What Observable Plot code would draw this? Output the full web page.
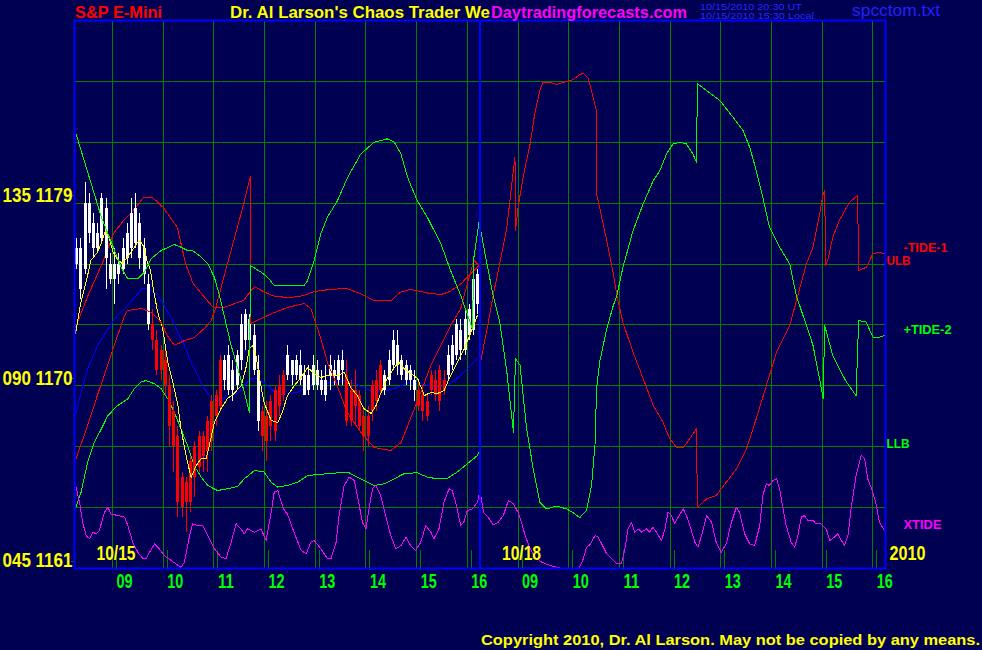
<!DOCTYPE html>
<html><head><meta charset="utf-8">
<script src="https://cdn.jsdelivr.net/npm/d3@7"></script>
<script src="https://cdn.jsdelivr.net/npm/@observablehq/plot@0.6"></script>
<style>
html,body{margin:0;padding:0;background:#000052;}
#chart{width:982px;height:650px;overflow:hidden;}
svg .crisp line, svg .crisp path{shape-rendering:crispEdges;}
</style></head><body><div id="chart"></div>
<script>
// ---- Data (x = session hours since 10/15 08:15; day 2 (10/18) starts at 8) ----
const barMinutes = 5;
const barOpen  = [1176.0,1174.75,1175.75,1177.5,1176.75,1176.75,1177.25,1176.25,1175.25,1175.25,1175.5,1175.75,1176.25,1176.75,1177.0,1176.25,1175.5,1173.0,1173.0,1172.25,1171.75,1171.25,1170.0,1168.75,1167.5,1165.5,1165.25,1166.25,1167.0,1167.5,1167.5,1168.25,1169.25,1169.5,1171.25,1170.25,1169.75,1169.75,1170.0,1171.25,1172.25,1172.25,1170.75,1168.25,1168.75,1168.5,1169.25,1169.75,1170.0,1170.5,1170.5,1170.5,1170.5,1170.25,1169.5,1169.75,1170.0,1170.0,1169.75,1169.5,1170.5,1170.5,1170.25,1170.75,1170.5,1169.75,1169.75,1169.5,1168.5,1168.5,1170.0,1170.25,1171.0,1169.75,1170.25,1171.0,1171.0,1170.5,1170.25,1170.25,1169.75,1169.75,1169.5,1169.25,1170.5,1170.25,1170.75,1170.25,1170.5,1171.0,1171.5,1171.75,1171.75,1172.5,1172.75,1174.0];
const barHigh  = [1177.25,1177.25,1180.0,1179.5,1178.5,1178.0,1179.5,1179.25,1176.5,1176.75,1176.5,1177.25,1178.0,1179.25,1179.5,1178.5,1177.25,1175.5,1173.75,1172.75,1172.0,1171.75,1170.5,1169.25,1168.0,1165.75,1165.5,1166.5,1167.25,1167.75,1167.75,1168.5,1169.5,1169.75,1171.5,1171.5,1172.0,1171.25,1171.75,1173.5,1173.75,1173.5,1173.0,1171.5,1169.0,1169.25,1169.5,1170.0,1170.5,1170.75,1172.0,1171.25,1171.5,1171.75,1171.0,1171.0,1171.5,1171.25,1170.75,1171.0,1171.5,1171.25,1171.5,1171.75,1171.25,1170.25,1170.75,1169.75,1169.0,1169.0,1170.25,1170.75,1171.25,1170.75,1171.75,1172.75,1172.75,1171.5,1171.25,1171.0,1170.75,1170.25,1170.0,1169.5,1170.75,1170.75,1171.0,1170.75,1172.0,1172.5,1173.25,1173.25,1173.75,1174.0,1175.75,1175.75];
const barLow   = [1175.75,1174.25,1175.5,1177.0,1176.25,1176.5,1177.0,1174.75,1175.0,1174.0,1175.0,1175.5,1176.0,1176.25,1176.75,1175.75,1175.0,1172.75,1171.75,1170.5,1170.25,1169.5,1167.0,1165.75,1163.5,1163.5,1162.75,1163.75,1164.5,1165.75,1165.75,1165.75,1166.75,1168.0,1168.75,1169.75,1169.5,1169.25,1169.75,1170.75,1171.75,1172.0,1170.5,1167.75,1166.75,1166.25,1167.25,1167.25,1168.5,1169.25,1170.25,1170.0,1170.25,1170.0,1169.5,1169.5,1169.75,1169.75,1169.5,1169.25,1169.75,1170.0,1170.0,1170.0,1168.0,1168.0,1168.0,1167.75,1166.75,1167.0,1168.25,1168.75,1169.5,1169.5,1170.0,1170.75,1170.5,1170.25,1170.0,1169.75,1169.25,1168.75,1168.25,1168.25,1169.5,1169.25,1168.75,1169.5,1170.25,1170.75,1171.25,1171.25,1171.5,1172.25,1172.5,1173.5];
const barClose = [1176.75,1176.75,1179.0,1179.0,1178.0,1177.5,1179.25,1178.75,1176.0,1176.0,1176.0,1176.75,1177.5,1178.5,1178.75,1178.0,1176.75,1175.0,1172.25,1170.75,1170.75,1170.0,1168.0,1167.0,1164.25,1164.0,1164.25,1164.25,1165.5,1166.0,1166.5,1166.75,1167.25,1168.5,1169.0,1171.25,1171.5,1170.75,1171.5,1173.0,1173.5,1173.25,1172.5,1170.75,1167.5,1167.25,1168.0,1167.75,1169.0,1169.5,1171.5,1171.25,1171.25,1171.0,1170.5,1170.5,1171.0,1170.75,1170.25,1170.25,1171.0,1170.75,1171.25,1171.25,1168.25,1168.25,1169.0,1168.0,1167.5,1167.5,1168.75,1169.25,1169.75,1170.5,1171.25,1172.25,1172.0,1171.25,1171.0,1170.75,1170.25,1169.0,1168.75,1168.5,1169.75,1169.5,1169.25,1169.75,1171.5,1172.0,1173.0,1172.75,1173.25,1173.75,1175.25,1175.5];

const movingAvg = [[0.02,1172.58],[0.12,1174.06],[0.25,1175.34],[0.32,1176.17],[0.45,1176.57],[0.55,1177.16],[0.61,1177.65],[0.68,1177.31],[0.77,1176.52],[0.87,1176.17],[0.94,1176.03],[1.04,1176.32],[1.14,1176.67],[1.24,1177.06],[1.30,1177.16],[1.37,1176.82],[1.43,1176.17],[1.50,1175.68],[1.56,1174.70],[1.64,1173.63],[1.74,1172.82],[1.84,1171.16],[1.94,1170.18],[2.04,1169.03],[2.10,1167.90],[2.20,1166.57],[2.30,1165.48],[2.40,1166.07],[2.50,1166.42],[2.60,1166.42],[2.69,1167.40],[2.76,1168.19],[2.89,1168.88],[3.02,1169.38],[3.15,1169.62],[3.29,1170.02],[3.38,1170.85],[3.45,1171.84],[3.51,1171.99],[3.58,1171.49],[3.65,1170.36],[3.74,1169.18],[3.88,1168.29],[4.01,1168.19],[4.10,1168.69],[4.20,1169.52],[4.34,1170.02],[4.47,1170.41],[4.60,1170.90],[4.73,1170.61],[4.86,1170.41],[4.99,1170.51],[5.19,1170.51],[5.32,1170.66],[5.45,1169.92],[5.58,1169.52],[5.71,1168.88],[5.85,1168.64],[5.95,1169.03],[6.04,1169.62],[6.17,1170.36],[6.31,1170.90],[6.40,1171.15],[6.50,1170.85],[6.63,1170.61],[6.77,1170.36],[6.90,1169.52],[7.03,1169.67],[7.16,1169.62],[7.29,1169.77],[7.42,1170.51],[7.55,1171.15],[7.69,1171.84],[7.82,1172.63],[7.95,1173.47]];
const slowAvg = [[0.03,1168.64],[0.13,1169.67],[0.26,1170.85],[0.46,1171.99],[0.66,1172.82],[0.85,1173.47],[1.05,1173.96],[1.22,1174.45],[1.33,1174.80],[1.46,1174.80],[1.64,1174.45],[1.77,1173.96],[1.91,1173.32],[2.04,1172.63],[2.17,1171.99],[2.30,1171.15],[2.43,1170.51],[2.56,1169.87],[2.69,1169.43],[2.82,1169.28],[3.02,1169.43],[3.22,1169.62],[3.35,1170.02],[3.48,1170.36],[3.61,1170.36],[3.74,1170.16],[3.88,1169.87],[4.01,1169.52],[4.20,1169.62],[4.40,1169.67],[4.60,1170.02],[4.86,1170.11],[5.12,1170.16],[5.32,1170.26],[5.52,1170.11],[5.71,1169.92],[5.91,1169.67],[6.17,1169.77],[6.37,1169.92],[6.57,1170.16],[6.76,1170.16],[6.96,1170.02],[7.16,1169.97],[7.36,1170.02],[7.55,1170.36],[7.75,1170.85],[7.95,1171.35]];
const ulb = [[0.02,1172.87],[0.25,1174.35],[0.57,1176.17],[0.77,1177.51],[0.97,1178.15],[1.16,1178.64],[1.36,1179.28],[1.54,1179.28],[1.75,1178.79],[2.03,1177.80],[2.19,1176.03],[2.34,1175.04],[2.62,1174.20],[2.74,1173.86],[2.94,1173.86],[3.33,1174.20],[3.55,1174.89],[3.76,1174.60],[3.96,1174.40],[4.26,1174.35],[4.53,1174.45],[4.73,1174.65],[5.04,1174.75],[5.36,1174.80],[5.64,1174.55],[5.91,1174.20],[6.25,1174.20],[6.42,1174.60],[6.62,1174.75],[6.82,1174.65],[7.01,1174.55],[7.23,1174.50],[7.41,1174.65],[7.63,1175.04],[7.82,1175.53],[7.98,1175.93]];
const llb = [[0.03,1164.01],[0.13,1164.76],[0.26,1166.24],[0.39,1167.22],[0.53,1167.88],[0.66,1168.54],[0.85,1169.03],[1.05,1169.36],[1.18,1169.85],[1.31,1170.18],[1.41,1170.26],[1.58,1170.10],[1.71,1169.85],[1.84,1169.36],[1.97,1168.70],[2.10,1167.88],[2.23,1167.06],[2.36,1166.07],[2.50,1165.50],[2.63,1165.09],[2.82,1164.84],[3.02,1164.93],[3.22,1165.05],[3.35,1165.42],[3.55,1165.83],[3.74,1165.75],[3.88,1165.25],[4.01,1165.01],[4.20,1165.09],[4.40,1165.25],[4.60,1165.58],[4.99,1165.67],[5.39,1165.75],[5.58,1165.50],[5.78,1165.25],[5.91,1165.09],[6.11,1165.17],[6.31,1165.42],[6.50,1165.67],[6.76,1165.72],[6.96,1165.50],[7.16,1165.42],[7.36,1165.45],[7.55,1165.75],[7.75,1166.16],[7.95,1166.57],[8.0,1166.88]];
const tide1 = [[0.03,1166.42],[0.26,1168.05],[0.45,1169.52],[0.65,1171.00],[0.85,1172.48],[0.99,1173.47],[1.04,1173.71],[1.32,1173.81],[1.52,1173.61],[1.71,1173.12],[1.83,1172.48],[1.97,1171.99],[2.17,1172.23],[2.36,1172.38],[2.56,1172.82],[2.70,1173.22],[2.80,1173.96],[2.98,1175.68],[3.17,1177.41],[3.33,1178.89],[3.47,1180.31],[3.48,1173.07],[3.68,1173.32],[3.94,1173.61],[4.20,1173.86],[4.53,1174.06],[4.66,1173.81],[4.73,1173.32],[4.86,1172.33],[4.99,1171.15],[5.18,1170.02],[5.38,1168.69],[5.65,1167.70],[5.91,1166.96],[6.24,1166.81],[6.44,1167.20],[6.63,1168.39],[6.83,1169.67],[7.03,1171.00],[7.23,1171.99],[7.42,1172.97],[7.62,1173.81],[7.74,1174.94],[7.88,1176.18],[7.98,1175.93],
  [8.01,1171.15],[8.14,1172.82],[8.26,1174.45],[8.39,1176.03],[8.53,1177.80],[8.65,1180.46],[8.69,1181.25],[8.70,1177.65],[8.75,1178.79],[8.85,1180.27],[8.99,1181.93],[9.08,1183.40],[9.18,1184.55],[9.24,1184.95],[9.38,1184.95],[9.51,1184.85],[9.64,1184.95],[9.84,1185.09],[9.97,1185.34],[10.04,1185.39],[10.14,1185.13],[10.23,1184.22],[10.29,1183.65],[10.30,1179.46],[10.36,1178.79],[10.50,1177.16],[10.63,1175.52],[10.70,1174.45],[10.82,1173.12],[11.02,1171.65],[11.22,1170.35],[11.42,1169.03],[11.61,1168.21],[11.74,1167.41],[11.88,1166.95],[12.01,1166.95],[12.14,1167.41],[12.27,1167.88],[12.29,1164.01],[12.47,1164.43],[12.66,1164.60],[12.86,1165.25],[13.06,1165.91],[13.26,1166.90],[13.45,1168.38],[13.65,1170.02],[13.85,1171.65],[14.11,1172.97],[14.27,1174.45],[14.44,1176.01],[14.57,1176.83],[14.70,1178.47],[14.77,1179.46],[14.80,1179.62],[14.82,1175.93],[14.86,1176.17],[14.96,1177.32],[15.09,1178.15],[15.29,1179.04],[15.45,1179.38],[15.47,1175.68],[15.62,1175.84],[15.75,1176.50],[15.85,1176.58],[15.98,1176.52]];
const tide2 = [[0.03,1182.42],[0.26,1180.53],[0.39,1179.46],[0.53,1178.31],[0.66,1177.49],[0.79,1176.67],[0.92,1175.84],[1.05,1175.27],[1.25,1175.27],[1.38,1175.60],[1.51,1176.26],[1.71,1176.67],[1.97,1176.96],[2.10,1176.83],[2.23,1176.67],[2.33,1176.67],[2.50,1176.34],[2.63,1176.01],[2.76,1175.35],[2.86,1174.45],[3.09,1171.99],[3.28,1170.35],[3.45,1168.70],[3.47,1175.93],[3.68,1175.60],[3.81,1175.35],[3.94,1174.94],[4.53,1174.94],[4.60,1175.19],[4.73,1176.18],[4.86,1177.49],[4.99,1178.31],[5.19,1179.13],[5.39,1180.28],[5.65,1181.43],[5.91,1182.00],[6.17,1182.17],[6.31,1182.00],[6.44,1181.43],[6.57,1180.28],[6.76,1179.13],[6.96,1178.31],[7.23,1176.99],[7.42,1175.68],[7.62,1174.45],[7.85,1172.81],[7.88,1176.34],[7.98,1178.06],
  [8.01,1177.74],[8.13,1176.09],[8.26,1174.45],[8.39,1173.13],[8.53,1170.67],[8.66,1167.71],[8.70,1171.35],[8.79,1171.01],[8.92,1167.88],[9.05,1165.91],[9.18,1164.27],[9.31,1163.94],[9.51,1164.07],[9.71,1163.94],[9.84,1163.74],[9.97,1163.51],[10.10,1163.86],[10.20,1165.09],[10.27,1167.14],[10.30,1169.85],[10.36,1171.16],[10.50,1172.81],[10.63,1173.96],[10.70,1174.45],[10.82,1175.84],[11.02,1177.65],[11.22,1178.97],[11.42,1180.12],[11.55,1180.61],[11.68,1181.43],[11.81,1181.92],[11.94,1182.00],[12.07,1181.92],[12.20,1181.43],[12.27,1181.02],[12.29,1184.88],[12.47,1184.55],[12.73,1184.06],[12.99,1183.24],[13.19,1182.58],[13.32,1181.76],[13.45,1180.61],[13.58,1179.29],[13.71,1177.82],[13.91,1176.83],[14.11,1176.01],[14.24,1174.45],[14.44,1172.97],[14.57,1171.99],[14.70,1170.35],[14.77,1169.36],[14.80,1172.97],[14.96,1171.49],[15.09,1170.84],[15.23,1170.18],[15.42,1169.52],[15.47,1173.22],[15.62,1173.14],[15.75,1172.40],[15.88,1172.40],[15.98,1172.47]];
const xtide = [[0.03,1165.01],[0.10,1164.27],[0.16,1163.28],[0.23,1162.62],[0.30,1162.46],[0.36,1162.79],[0.43,1162.71],[0.49,1162.87],[0.59,1163.77],[0.66,1164.02],[0.72,1163.69],[0.85,1163.61],[0.99,1163.53],[1.05,1163.12],[1.15,1162.29],[1.25,1161.80],[1.35,1161.48],[1.41,1161.48],[1.48,1161.80],[1.58,1162.22],[1.67,1161.97],[1.77,1161.64],[1.91,1161.39],[2.00,1161.23],[2.10,1161.06],[2.17,1161.31],[2.27,1162.62],[2.33,1163.20],[2.43,1163.12],[2.53,1163.12],[2.63,1162.62],[2.76,1161.97],[2.89,1161.56],[2.99,1161.48],[3.09,1162.29],[3.19,1163.20],[3.28,1162.95],[3.35,1162.71],[3.41,1162.95],[3.55,1162.79],[3.68,1162.95],[3.78,1162.38],[3.88,1163.77],[3.94,1164.76],[4.01,1164.84],[4.07,1164.35],[4.14,1163.86],[4.20,1163.69],[4.33,1162.79],[4.47,1161.89],[4.57,1161.72],[4.66,1162.29],[4.73,1162.38],[4.86,1161.97],[4.99,1161.48],[5.06,1161.48],[5.16,1162.29],[5.22,1163.61],[5.32,1165.09],[5.42,1165.50],[5.52,1165.34],[5.58,1164.60],[5.68,1163.28],[5.75,1162.95],[5.81,1163.94],[5.88,1164.93],[5.94,1165.09],[6.04,1164.60],[6.14,1163.61],[6.24,1162.62],[6.34,1161.97],[6.44,1162.13],[6.54,1162.54],[6.63,1162.13],[6.73,1161.89],[6.83,1162.29],[6.93,1163.12],[7.03,1162.79],[7.09,1162.46],[7.19,1162.95],[7.29,1164.27],[7.39,1164.93],[7.45,1164.84],[7.52,1164.27],[7.62,1163.12],[7.68,1163.28],[7.75,1163.86],[7.85,1163.94],[7.95,1164.27],[8.00,1164.84],
  [8.07,1163.77],[8.16,1163.53],[8.26,1163.15],[8.36,1163.28],[8.46,1163.61],[8.56,1164.35],[8.66,1164.19],[8.75,1163.77],[8.82,1163.28],[8.89,1162.62],[8.99,1161.97],[9.08,1161.56],[9.22,1161.31],[9.38,1161.15],[9.58,1161.02],[9.77,1160.95],[9.94,1160.95],[10.04,1161.48],[10.10,1162.05],[10.17,1162.17],[10.27,1162.62],[10.33,1162.54],[10.40,1162.22],[10.50,1161.72],[10.60,1161.48],[10.69,1161.26],[10.79,1161.23],[10.86,1161.97],[10.92,1162.95],[10.99,1163.28],[11.05,1162.79],[11.12,1162.95],[11.19,1162.79],[11.28,1162.95],[11.35,1162.79],[11.41,1163.04],[11.48,1162.79],[11.58,1162.38],[11.65,1162.95],[11.71,1163.77],[11.78,1163.61],[11.84,1163.20],[11.91,1163.53],[12.01,1163.94],[12.07,1163.61],[12.14,1163.12],[12.24,1162.29],[12.30,1162.05],[12.37,1162.62],[12.47,1163.61],[12.57,1163.28],[12.66,1162.29],[12.76,1161.80],[12.86,1162.22],[12.96,1163.28],[13.06,1164.02],[13.12,1163.77],[13.22,1162.71],[13.32,1162.22],[13.42,1162.13],[13.52,1163.12],[13.58,1164.60],[13.65,1165.17],[13.71,1165.09],[13.78,1165.34],[13.85,1165.42],[13.91,1164.93],[13.98,1163.94],[14.04,1163.12],[14.14,1162.29],[14.21,1162.05],[14.27,1162.62],[14.34,1163.53],[14.40,1163.61],[14.47,1163.36],[14.57,1163.36],[14.63,1163.20],[14.73,1163.20],[14.83,1162.95],[14.90,1162.38],[14.99,1162.54],[15.06,1162.71],[15.13,1162.38],[15.19,1162.13],[15.26,1162.62],[15.32,1163.94],[15.42,1165.58],[15.52,1166.57],[15.59,1166.40],[15.65,1165.42],[15.75,1164.76],[15.82,1164.10],[15.88,1163.28],[15.98,1162.87]];

// axis / labels
const hourTicks = [0.75,1.75,2.75,3.75,4.75,5.75,6.75,7.75,8.75,9.75,10.75,11.75,12.75,13.75,14.75,15.75];
const hourLabels = ["09","10","11","12","13","14","15","16","09","10","11","12","13","14","15","16"];
const priceTicks = [1161,1170,1179];
const tideScaleLabels = ["045","090","135"];
const gridPrices = [1164,1167,1170,1173,1176,1179,1182,1185];
const dayStarts = [0,8];
const dayLabels = ["10/15","10/18"];
const yearLabel = "2010";
const dayBreak = [8];

// ---- Chart ----
const SANS = '"Liberation Sans",Arial,sans-serif';
const bars = barOpen.map((o,i)=>({t:(i+0.5)*barMinutes/60, o, h:barHigh[i], l:barLow[i], c:barClose[i]}));
const barColor = d => d.c >= d.o ? "#ffffff" : "#ff0000";
const last = a => a[a.length-1];
const seriesLabels = [
  {name:"ULB", v:last(ulb)[1], col:"#ff0000", inner:true},
  {name:"LLB", v:last(llb)[1], col:"#00ff00", inner:true},
  {name:"-TIDE-1", v:last(tide1)[1], col:"#ff0000", inner:false},
  {name:"+TIDE-2", v:last(tide2)[1], col:"#00ff00", inner:false},
  {name:"XTIDE", v:last(xtide)[1], col:"#ff00ff", inner:false}
];
const ln = (data, stroke) => Plot.line(data, {x:d=>d[0], y:d=>d[1], stroke, strokeWidth:1, clip:true, className:"crisp"});

const plot = Plot.plot({
  width:982, height:650,
  marginLeft:74, marginRight:97, marginTop:20, marginBottom:82,
  style:{background:"#000052", color:"#ffff00", overflow:"visible"},
  x:{domain:[0,16], label:null},
  y:{domain:[1161,1188], label:null},
  color:{type:"identity"},
  marks:[
    Plot.gridX(hourTicks, {stroke:"#008000", strokeOpacity:1, className:"crisp"}),
    Plot.gridY(gridPrices, {stroke:"#008000", strokeOpacity:1, className:"crisp"}),
    Plot.axisX({ticks:hourTicks, tickFormat:(d,i)=>hourLabels[i], tickSize:20, stroke:"#008000", fill:"#00ff00", label:null,
      textAnchor:"start", dx:4, dy:-18, fontSize:20, fontWeight:"bold", fontFamily:SANS, className:"crisp sq"}),
    Plot.axisY({ticks:priceTicks, tickFormat:(d,i)=>tideScaleLabels[i]+" "+d, tickSize:3, tickPadding:-1, label:null,
      stroke:"#008000", fill:"#ffff00", dy:-7.5, fontSize:20, fontWeight:"bold", fontFamily:SANS, className:"crisp sq"}),
    ln(ulb, "#ff0000"),
    ln(llb, "#00ff00"),
    ln(slowAvg, "#0000ff"),
    Plot.ruleX(bars, {x:"t", y1:"l", y2:"h", stroke:barColor, strokeWidth:1, className:"crisp"}),
    Plot.ruleX(bars, {x:"t", y1:"o", y2:"c", stroke:barColor, strokeWidth:3, className:"crisp"}),
    ln(movingAvg, "#ffff00"),
    ln(xtide, "#ff00ff"),
    ln(tide1, "#ff0000"),
    ln(tide2, "#00ff00"),
    Plot.ruleX(dayBreak, {stroke:"#0000ff", strokeWidth:2, className:"crisp"}),
    Plot.frame({stroke:"#0000ff", strokeWidth:2, className:"crisp"}),
    Plot.text(dayStarts, {x:d=>d, frameAnchor:"bottom", text:(d,i)=>dayLabels[i], dx:22, dy:-9, textAnchor:"start",
      fill:"#ffff00", fontSize:20, fontWeight:"bold", fontFamily:SANS, className:"sq"}),
    Plot.text([yearLabel], {frameAnchor:"bottom-right", text:d=>d, dx:4, dy:-9, textAnchor:"start",
      fill:"#ffff00", fontSize:20, fontWeight:"bold", fontFamily:SANS, className:"sq"}),
    Plot.text(seriesLabels.filter(d=>d.inner), {x:16, y:"v", text:"name", fill:"col", dx:1, dy:-5, textAnchor:"start",
      fontSize:13, fontWeight:"bold", fontFamily:SANS, className:"sq"}),
    Plot.text(seriesLabels.filter(d=>!d.inner), {x:16, y:"v", text:"name", fill:"col", dx:18, dy:-6, textAnchor:"start",
      fontSize:13, fontWeight:"bold", fontFamily:SANS, className:"sq"})
  ]
});
document.getElementById("chart").appendChild(plot);

// the original uses a narrow bitmap font: fit each label to the width it has in the picture
const fitWidths = {"135 1179":70, "090 1170":70, "045 1161":70, "10/15":39, "10/18":39, "2010":36,
  "-TIDE-1":44, "+TIDE-2":48, "ULB":24, "LLB":23, "XTIDE":38};
d3.select(plot).selectAll(".sq text").each(function() {
  const s = this.textContent;
  const w = fitWidths[s] !== undefined ? fitWidths[s] : (/^\d\d$/.test(s) ? 16 : null);
  if (w) { this.setAttribute("textLength", w); this.setAttribute("lengthAdjust", "spacingAndGlyphs"); }
});

// header / footer text
const svg = d3.select(plot);
const addText = (x, y, txt, fill, size, width, weight) => {
  const t = svg.append("text").attr("x", x).attr("y", y).attr("fill", fill).attr("font-size", size)
     .attr("text-anchor", "start").attr("font-family", SANS).attr("font-weight", weight || "normal").text(txt);
  if (width) t.attr("textLength", width).attr("lengthAdjust", "spacingAndGlyphs");
  return t;
};
addText(75, 18, "S&P E-Mini", "#ff0000", 17, 87, "bold");
addText(230, 18, "Dr. Al Larson's Chaos Trader We", "#ffff00", 17, 260, "bold");
addText(491, 18, "Daytradingforecasts.com", "#ff00ff", 17, 196, "bold");
addText(700, 9.5, "10/15/2010 20:30 UT", "#2828ff", 9, 102);
addText(700, 19, "10/15/2010 15:30 Local", "#2828ff", 9, 114);
addText(852, 16, "spcctom.txt", "#2020ff", 17, 88);
addText(481, 645, "Copyright 2010, Dr. Al Larson. May not be copied by any means.", "#ffff00", 14, 499, "bold");
</script>
</body></html>
